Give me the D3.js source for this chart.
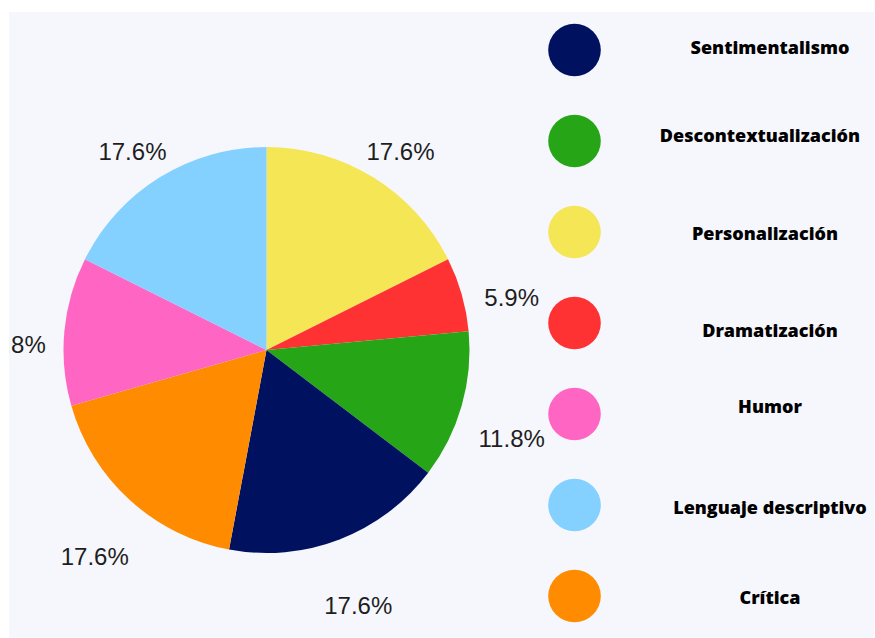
<!DOCTYPE html>
<html>
<head>
<meta charset="utf-8">
<script src="https://cdn.jsdelivr.net/npm/d3@7"></script>
<style>
  html, body { margin: 0; padding: 0; background: #ffffff; }
  svg { display: block; }
</style>
</head>
<body>
<svg id="chart" width="875" height="638"></svg>
<script>
// Slices, clockwise from 12 o'clock
const categories = ["Personalización", "Dramatización", "Descontextualización", "Sentimentalismo", "Crítica", "Humor", "Lenguaje descriptivo"];
const values = [17.6, 5.9, 11.8, 17.6, 17.6, 11.8, 17.6];
const colors = ["#f5e655", "#fe3233", "#26a617", "#001160", "#ff8c00", "#ff66c4", "#84d0ff"];

// Legend entries, top to bottom
const legendOrder = ["Sentimentalismo", "Descontextualización", "Personalización", "Dramatización", "Humor", "Lenguaje descriptivo", "Crítica"];

const svg = d3.select("#chart");

// Panel background
const panel = { x: 9, y: 12, w: 865, h: 626 };
svg.append("defs").append("clipPath").attr("id", "panelClip")
  .append("rect").attr("x", panel.x).attr("y", panel.y).attr("width", panel.w).attr("height", panel.h);
svg.append("rect")
  .attr("x", panel.x).attr("y", panel.y).attr("width", panel.w).attr("height", panel.h)
  .attr("fill", "#f6f7fd");

const root = svg.append("g").attr("clip-path", "url(#panelClip)");

// Pie
const cx = 266.5, cy = 350, radius = 203;
const color = d3.scaleOrdinal().domain(categories).range(colors);
const pie = d3.pie().sort(null).value(d => d.value);
const arcs = pie(categories.map((c, i) => ({ name: c, value: values[i] })));
const arc = d3.arc().innerRadius(0).outerRadius(radius);

const pieG = root.append("g").attr("transform", `translate(${cx},${cy})`);
pieG.selectAll("path")
  .data(arcs)
  .join("path")
  .attr("d", arc)
  .attr("fill", d => color(d.data.name));

// Percentage labels outside the pie
const labelArc = d3.arc().innerRadius(255).outerRadius(255);
const labelG = root.append("g").attr("transform", `translate(${cx},${cy + 18})`);
labelG.selectAll("text")
  .data(arcs)
  .join("text")
  .attr("transform", d => `translate(${labelArc.centroid(d)})`)
  .attr("text-anchor", "middle")
  .attr("dominant-baseline", "central")
  .attr("font-family", "'Liberation Sans', Arial, sans-serif")
  .attr("font-size", 24)
  .attr("fill", "#1e1e1e")
  .text(d => d.data.value + "%");

// Legend
const legendY = d3.scalePoint().domain(legendOrder).range([50, 596]);
const textDy = [-3, -6, 1, 7, -8, 2, 1];
const textDx = [0, -10, -5, 0, 0, 0, 0];
const legend = root.append("g");
const items = legend.selectAll("g")
  .data(legendOrder)
  .join("g")
  .attr("transform", d => `translate(0,${legendY(d)})`);
items.append("circle")
  .attr("cx", 574.5)
  .attr("r", 26.3)
  .attr("fill", d => color(d));
items.append("text")
  .attr("x", (d, i) => 770 + textDx[i])
  .attr("y", (d, i) => textDy[i])
  .attr("text-anchor", "middle")
  .attr("dominant-baseline", "central")
  .attr("font-family", "'Open Sans', sans-serif")
  .attr("font-weight", 800)
  .attr("font-size", 18)
  .attr("fill", "#000")
  .text(d => d);
</script>
</body>
</html>
